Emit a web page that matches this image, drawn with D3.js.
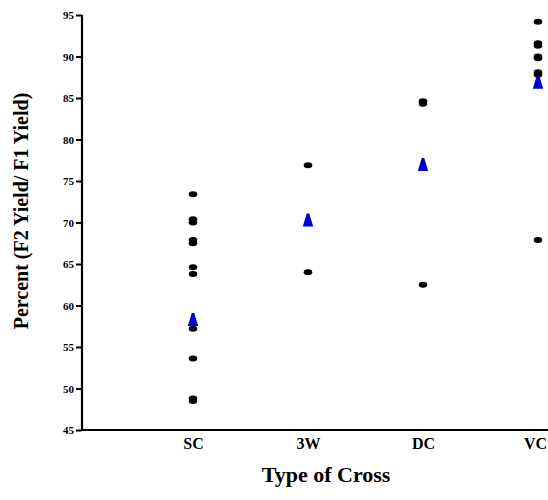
<!DOCTYPE html>
<html>
  <head>
    <script src="https://cdnjs.cloudflare.com/ajax/libs/d3/7.8.5/d3.min.js"></script>
  <style>
body
{
  margin: 0;
  background: white;
}

text
{
  font-family: "Liberation Serif", "Times New Roman", serif;
  font-weight: bold;
  fill: black;
}
  </style>
  </head>
  <body>
    <div id="chart"></div>
<script>
var crosses = ['SC', '3W', 'DC', 'VC'];
var yTicks = [45, 50, 55, 60, 65, 70, 75, 80, 85, 90, 95];

// individual observations, per type of cross
var scValues = [73.4, 70.4, 70.0, 67.9, 67.5, 64.6, 63.8, 57.2, 53.6, 48.8, 48.5];
var w3Values = [76.9, 64.0];
var dcValues = [84.6, 84.3, 62.5];
var vcValues = [94.2, 91.6, 91.3, 90.0, 89.8, 88.1, 87.8, 67.9];

// means, one per type of cross
var means = [58.3, 70.3, 77.0, 86.9];

var width = 548,
  height = 500,
  margin = {left: 82, top: 15, bottom: 70};

var svg = d3.select("#chart").append("svg")
  .attr("width", width)
  .attr("height", height);

var x = d3.scaleLinear()
  .domain([0, 4])
  .range([78, 538]);

var y = d3.scaleLinear()
  .domain([45, 95])
  .range([height - margin.bottom, margin.top]);

// y axis
var yAxis = svg.append("g")
  .attr("transform", "translate(" + margin.left + ",0)")
  .call(d3.axisLeft(y).tickValues(yTicks).tickSize(6).tickPadding(2));
yAxis.select(".domain").attr("stroke-width", 2.2).attr("d",
  "M0," + y(95) + "V" + y(45));
yAxis.selectAll(".tick line").attr("stroke-width", 2);
yAxis.selectAll(".tick text")
  .style("font-size", "11px")
  .style("font-family", "'Liberation Serif', serif")
  .style("font-weight", "bold");

// x axis
var xAxis = svg.append("g")
  .attr("transform", "translate(0," + y(45) + ")")
  .call(d3.axisBottom(x).tickValues([1, 2, 3, 4])
    .tickFormat(function (d) { return crosses[d - 1]; })
    .tickSize(0).tickPadding(8));
xAxis.select(".domain").attr("stroke-width", 2.2).attr("d",
  "M" + (margin.left - 1) + ",0H" + width);
xAxis.selectAll(".tick text")
  .style("font-size", "16px")
  .style("font-family", "'Liberation Serif', serif")
  .style("font-weight", "bold");
// last label sits against the right edge
xAxis.selectAll(".tick text").filter(function (d) { return d === 4; })
  .attr("dx", -3);

var groups = [scValues, w3Values, dcValues, vcValues];
var points = [];
groups.forEach(function (vals, i) {
  vals.forEach(function (v) { points.push({cross: i + 1, value: v}); });
});

svg.append("g").selectAll("ellipse")
  .data(points)
  .enter().append("ellipse")
  .attr("cx", function (d) { return x(d.cross); })
  .attr("cy", function (d) { return y(d.value); })
  .attr("rx", 4.3)
  .attr("ry", 3)
  .attr("fill", "black");

// narrow triangle for the means
var narrowTriangle = {
  draw: function (context, size) {
    var h = Math.sqrt(size * 1.3), w = h * 0.8;
    context.moveTo(-w * 0.12, -h / 2);
    context.lineTo(w * 0.12, -h / 2);
    context.lineTo(w / 2, h / 2);
    context.lineTo(-w / 2, h / 2);
    context.closePath();
  }
};
var tri = d3.symbol().type(narrowTriangle).size(130);
svg.append("g").selectAll("path")
  .data(means)
  .enter().append("path")
  .attr("d", tri)
  .attr("transform", function (d, i) {
    return "translate(" + x(i + 1) + "," + y(d) + ")";
  })
  .attr("fill", "#0000cc");

svg.append("text")
  .attr("x", 326)
  .attr("y", 482)
  .attr("text-anchor", "middle")
  .style("font-size", "22px")
  .text("Type of Cross");

svg.append("text")
  .attr("transform", "translate(28,211) rotate(-90)")
  .attr("text-anchor", "middle")
  .style("font-size", "20px")
  .text("Percent (F2 Yield/ F1 Yield)");
</script>
  </body>
</html>
